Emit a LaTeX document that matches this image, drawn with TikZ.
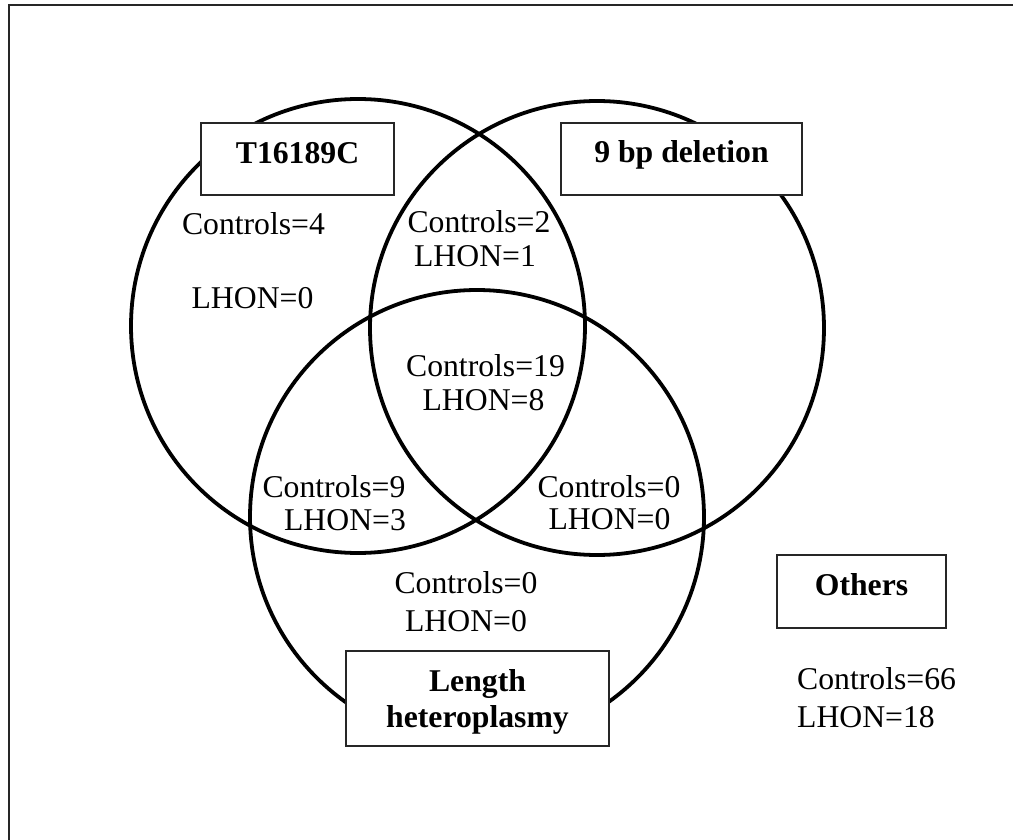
\documentclass[tikz,border=0pt]{standalone}
\usepackage{fontspec}
\setmainfont{Liberation Serif}
\begin{document}
\begin{tikzpicture}[x=1pt,y=-1pt,
  setcircle/.style={circle,draw=black,line width=3.8pt,minimum size=454pt,inner sep=0pt},
  labelbox/.style={draw=black!85,line width=1.6pt,fill=white,inner sep=0pt,
    font=\bfseries\fontsize{31.7}{36}\selectfont},
  count/.style={anchor=base,inner sep=0pt,font=\fontsize{31.7}{34}\selectfont},
]
\useasboundingbox (0,0) rectangle (1013,840);
% page frame (left and top edges)
\draw[line width=2pt,draw=black!85] (9,840) -- (9,5.5) -- (1013,5.5);

% the three sets
\node[setcircle] (setT) at (358,326) {};
\node[setcircle] (setD) at (597,328) {};
\node[setcircle] (setL) at (477,517) {};

% set labels
\node[labelbox,minimum width=193pt,minimum height=72pt,text height=30pt,text depth=20pt]
  (tbox) at (297.5,159) {T16189C};
\node[labelbox,minimum width=241pt,minimum height=72pt,text height=28pt,text depth=20pt]
  (dbox) at (681.5,159) {9 bp deletion};
\node[labelbox,minimum width=169pt,minimum height=73pt,text height=27pt,text depth=20pt]
  (obox) at (861.5,591.5) {Others};
\node[labelbox,minimum width=263pt,minimum height=95pt,align=center]
  (lbox) at (477.5,698.5) {\rule{0pt}{29pt}Length\\heteroplasmy};

% counts per region
\node[count] (c4)  at (253.5,234) {Controls=4};
\node[count] (l0a) at (252.5,308) {LHON=0};
\node[count] (c2)  at (479,233) {Controls=2};
\node[count] (l1)  at (475,266) {LHON=1};
\node[count] (c19) at (485.5,376.5) {Controls=19};
\node[count] (l8)  at (483.5,410) {LHON=8};
\node[count] (c9)  at (334,497) {Controls=9};
\node[count] (l3)  at (345,530) {LHON=3};
\node[count] (c0a) at (609,497) {Controls=0};
\node[count] (l0b) at (609.5,529.5) {LHON=0};
\node[count] (c0b) at (466,593) {Controls=0};
\node[count] (l0c) at (466,631) {LHON=0};
\node[count,anchor=base west] (c66) at (797,689) {Controls=66};
\node[count,anchor=base west] (l18) at (797,727) {LHON=18};
\end{tikzpicture}
\end{document}
